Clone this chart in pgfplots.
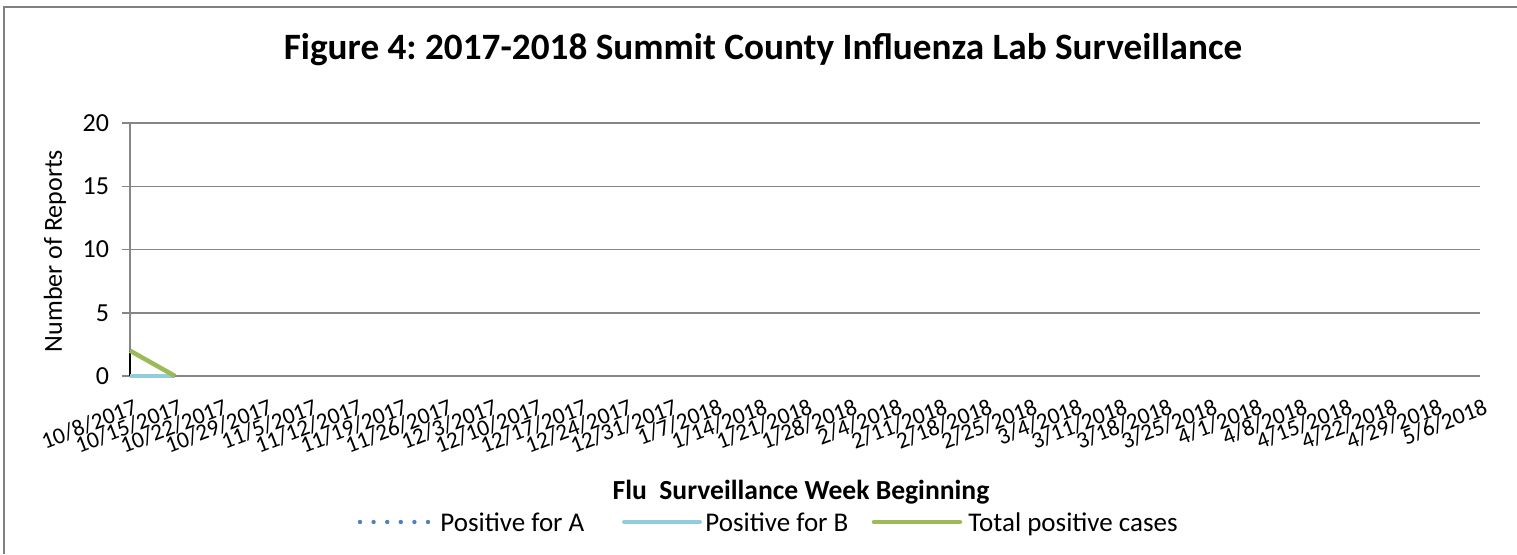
\documentclass[border=0pt]{standalone}
\usepackage{pgfplots}
\pgfplotsset{compat=1.18}
\usepackage{fontspec}
\setmainfont{Carlito}
\definecolor{frame}{RGB}{128,128,128}
\definecolor{gridc}{RGB}{134,134,134}
\definecolor{serA}{RGB}{79,129,189}
\definecolor{serB}{RGB}{146,205,220}
\definecolor{serT}{RGB}{155,187,89}
\begin{document}
\frenchspacing
\begin{tikzpicture}
\path[use as bounding box] (0,0) rectangle (758.5pt,277pt);
\draw[frame, line width=1pt] (1.75pt,0) -- (1.75pt,273.75pt) -- (758.5pt,273.75pt);
\node[font=\fontsize{18.6}{22}\selectfont\bfseries] at (381.5pt,252pt) {Figure 4: 2017-2018 Summit County Influenza Lab Surveillance};
\node[rotate=90, font=\fontsize{13}{15}\selectfont] at (27.5pt,151.5pt) {Number of Reports};
\begin{axis}[
  at={(65pt,89pt)}, anchor=origin,
  scale only axis, width=675pt, height=126.5pt,
  xmin=0, xmax=30, ymin=0, ymax=20,
  axis lines*=left,
  axis line style={gridc, line width=0.75pt},
  ytick={0,5,10,15,20},
  ymajorgrids, grid style={gridc, line width=0.75pt},
  y tick style={gridc, line width=0.75pt},
  major tick length=4pt, tick align=outside,
  xtick={0,...,30},
  x tick style={draw=none},
  xticklabels={10/8/2017,10/15/2017,10/22/2017,10/29/2017,11/5/2017,11/12/2017,11/19/2017,11/26/2017,12/3/2017,12/10/2017,12/17/2017,12/24/2017,12/31/2017,1/7/2018,1/14/2018,1/21/2018,1/28/2018,2/4/2018,2/11/2018,2/18/2018,2/25/2018,3/4/2018,3/11/2018,3/18/2018,3/25/2018,4/1/2018,4/8/2018,4/15/2018,4/22/2018,4/29/2018,5/6/2018},
  x tick label style={font=\fontsize{11.6}{14}\selectfont, rotate=21, anchor=north east, inner sep=1pt, yshift=-6pt},
  y tick label style={font=\fontsize{13}{15}\selectfont, xshift=-3pt},
  /pgf/number format/assume math mode=true,
  clip=false,
]
\addplot[black, line width=0.75pt, forget plot] coordinates {(0,0) (0,2)};
\addplot[serA, line width=1.5pt, dotted] coordinates {(0,2) (1,0)};
\addplot[serB, line width=2pt] coordinates {(0,0) (1,0)};
\addplot[serT, line width=2.25pt] coordinates {(0,2) (1,0)};
\end{axis}
\node[font=\fontsize{13.8}{16}\selectfont\bfseries] at (400.5pt,31pt) {Flu\ \ Surveillance Week Beginning};
% legend
\draw[serA, line width=2.2pt, dash pattern=on 0pt off 6.8pt, line cap=round] (180pt,16pt) -- (214pt,16pt);
\node[anchor=base west, font=\fontsize{13.5}{16}\selectfont, inner sep=0pt] at (220pt,11.5pt) {Positive for A};
\draw[serB, line width=2pt, line cap=round] (312pt,16pt) -- (350pt,16pt);
\node[anchor=base west, font=\fontsize{13.5}{16}\selectfont, inner sep=0pt] at (352.5pt,11.5pt) {Positive for B};
\draw[serT, line width=2.25pt, line cap=round] (437pt,16pt) -- (480pt,16pt);
\node[anchor=base west, font=\fontsize{13.5}{16}\selectfont, inner sep=0pt] at (484pt,11.5pt) {Total positive cases};
\end{tikzpicture}
\end{document}
